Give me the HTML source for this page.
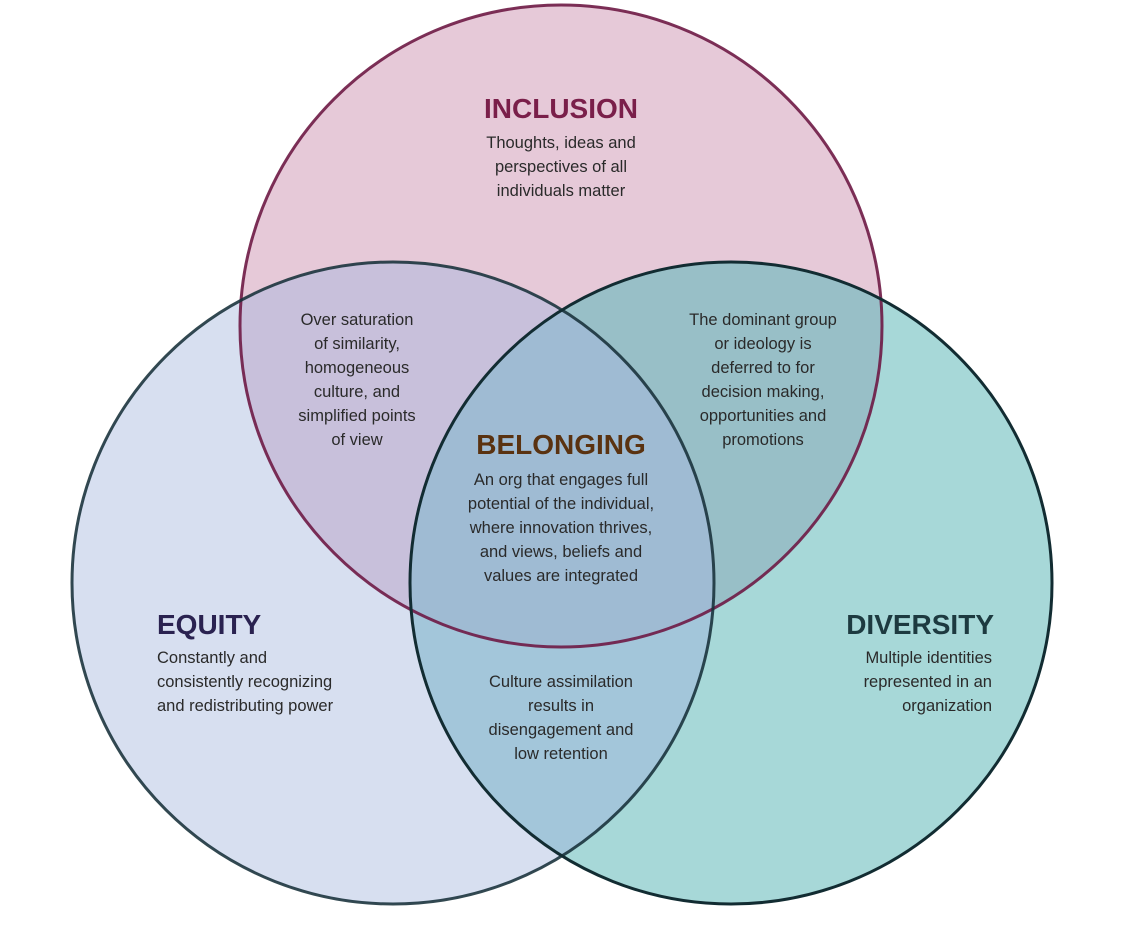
<!DOCTYPE html>
<html><head><style>
body{margin:0;background:#fff;}
svg text{font-family:"Liberation Sans",sans-serif;}
.b{font-size:16.5px;fill:#2a2a2a;}
.t{font-size:28px;font-weight:bold;}
</style></head><body>
<svg width="1121" height="935" viewBox="0 0 1121 935">
<defs>
<clipPath id="cT"><circle cx="561" cy="326" r="321"/></clipPath>
<clipPath id="cL"><circle cx="393" cy="583" r="321"/></clipPath>
<clipPath id="cR"><circle cx="731" cy="583" r="321"/></clipPath>
</defs>
<rect width="1121" height="935" fill="#fff"/>
<circle cx="561" cy="326" r="321" fill="#e6c9d8"/>
<circle cx="393" cy="583" r="321" fill="#d7dff0"/>
<circle cx="731" cy="583" r="321" fill="#a7d8d8"/>
<g clip-path="url(#cT)"><circle cx="393" cy="583" r="321" fill="#c8c0db"/><circle cx="731" cy="583" r="321" fill="#98bfc7"/></g>
<g clip-path="url(#cL)"><circle cx="731" cy="583" r="321" fill="#a3c6da"/></g>
<g clip-path="url(#cT)"><g clip-path="url(#cL)"><circle cx="731" cy="583" r="321" fill="#9fbbd3"/></g></g>
<circle cx="561" cy="326" r="321" fill="none" stroke="#6e1a45" stroke-width="3" opacity="0.9"/>
<circle cx="393" cy="583" r="321" fill="none" stroke="#173039" stroke-width="3" opacity="0.88"/>
<circle cx="731" cy="583" r="321" fill="none" stroke="#122c32" stroke-width="3"/>
<g text-anchor="middle">
<text class="t" x="561" y="118" fill="#7a1f4a">INCLUSION</text>
<text class="b" x="561" y="148">Thoughts, ideas and</text>
<text class="b" x="561" y="172">perspectives of all</text>
<text class="b" x="561" y="196">individuals matter</text>
<text class="b" x="357" y="325">Over saturation</text>
<text class="b" x="357" y="349">of similarity,</text>
<text class="b" x="357" y="373">homogeneous</text>
<text class="b" x="357" y="397">culture, and</text>
<text class="b" x="357" y="421">simplified points</text>
<text class="b" x="357" y="445">of view</text>
<text class="b" x="763" y="325">The dominant group</text>
<text class="b" x="763" y="349">or ideology is</text>
<text class="b" x="763" y="373">deferred to for</text>
<text class="b" x="763" y="397">decision making,</text>
<text class="b" x="763" y="421">opportunities and</text>
<text class="b" x="763" y="445">promotions</text>
<text class="t" x="561" y="454" fill="#5a3210">BELONGING</text>
<text class="b" x="561" y="485">An org that engages full</text>
<text class="b" x="561" y="509">potential of the individual,</text>
<text class="b" x="561" y="533">where innovation thrives,</text>
<text class="b" x="561" y="557">and views, beliefs and</text>
<text class="b" x="561" y="581">values are integrated</text>
<text class="b" x="561" y="687">Culture assimilation</text>
<text class="b" x="561" y="711">results in</text>
<text class="b" x="561" y="735">disengagement and</text>
<text class="b" x="561" y="759">low retention</text>
</g>
<text class="t" x="157" y="634" fill="#2a2250">EQUITY</text>
<text class="b" x="157" y="663">Constantly and</text>
<text class="b" x="157" y="687">consistently recognizing</text>
<text class="b" x="157" y="711">and redistributing power</text>
<g text-anchor="end">
<text class="t" x="994" y="634" fill="#1d3a40">DIVERSITY</text>
<text class="b" x="992" y="663">Multiple identities</text>
<text class="b" x="992" y="687">represented in an</text>
<text class="b" x="992" y="711">organization</text>
</g>
</svg>
</body></html>
